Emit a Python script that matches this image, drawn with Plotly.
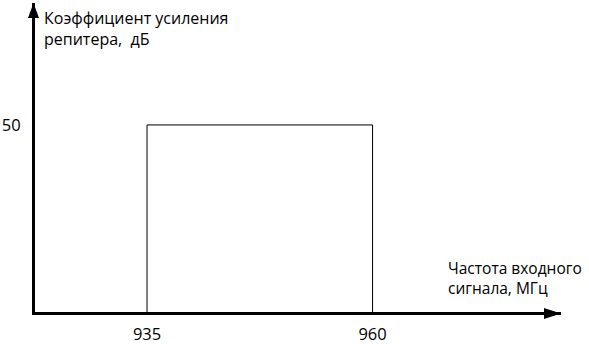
import plotly.graph_objects as go

# Repeater passband: gain is flat between the two band-edge frequencies
band_edges_mhz = [935, 960]
gain_db = 50
tick_labels_x = ["935", "960"]
tick_labels_y = ["50"]
y_title = "Коэффициент усиления<br>репитера,  дБ"
x_title = "Частота входного<br>сигнала, МГц"

W, H = 589, 344
ML, MR, MT, MB = 35, 28, 3, 32
FONT = "Open Sans"

# Rectangular response curve built from the band edges and the gain
rect_x = [band_edges_mhz[0], band_edges_mhz[0], band_edges_mhz[1], band_edges_mhz[1]]
rect_y = [0, gain_db, gain_db, 0]

x_range = [922.58, 980.89]
y_range = [0, 82.6]

fig = go.Figure()
fig.add_trace(go.Scatter(
    x=rect_x, y=rect_y, mode="lines",
    line=dict(color="black", width=1),
    hoverinfo="skip", showlegend=False, cliponaxis=False,
))

plot_w = W - ML - MR
plot_h = H - MT - MB


def px_to_paper(px, py):
    return (px - ML) / plot_w, 1 - (py - MT) / plot_h


annotations = []
ax_, ay_ = px_to_paper(42, 5)
annotations.append(dict(
    text=y_title, xref="paper", yref="paper", x=ax_, y=ay_,
    xanchor="left", yanchor="top", showarrow=False, align="left",
    font=dict(family=FONT, size=16, color="black"),
))
bx_, by_ = px_to_paper(446, 255)
annotations.append(dict(
    text=x_title, xref="paper", yref="paper", x=bx_, y=by_,
    xanchor="left", yanchor="top", showarrow=False, align="left",
    font=dict(family=FONT, size=15.5, color="black"),
))

# Arrowheads at the ends of both axes (sizes in pixels)
shapes = [
    dict(type="path", xref="paper", yref="paper",
         xsizemode="pixel", ysizemode="pixel", xanchor=0, yanchor=1,
         path="M-1.5,0 L-7,-15 L4,-15 Z",
         fillcolor="black", line=dict(width=0)),
    dict(type="path", xref="paper", yref="paper",
         xsizemode="pixel", ysizemode="pixel", xanchor=1, yanchor=0,
         path="M0,-1.5 L-17,4 L-17,-7 Z",
         fillcolor="black", line=dict(width=0)),
]

fig.update_layout(
    width=W, height=H,
    margin=dict(l=ML, r=MR, t=MT, b=MB, pad=0, autoexpand=False),
    paper_bgcolor="white", plot_bgcolor="white",
    font=dict(family=FONT, size=16.5, color="black"),
    annotations=annotations, shapes=shapes,
    xaxis=dict(range=x_range, showgrid=False, zeroline=False, automargin=False,
               showline=True, linecolor="black", linewidth=3,
               tickvals=band_edges_mhz, ticktext=tick_labels_x,
               ticks="", ticklabelstandoff=5, fixedrange=True),
    yaxis=dict(range=y_range, showgrid=False, zeroline=False, automargin=False,
               showline=True, linecolor="black", linewidth=3,
               tickvals=[gain_db], ticktext=tick_labels_y,
               ticks="", ticklabelstandoff=8, fixedrange=True),
)

fig.write_html("out.html", config={"displayModeBar": False})
